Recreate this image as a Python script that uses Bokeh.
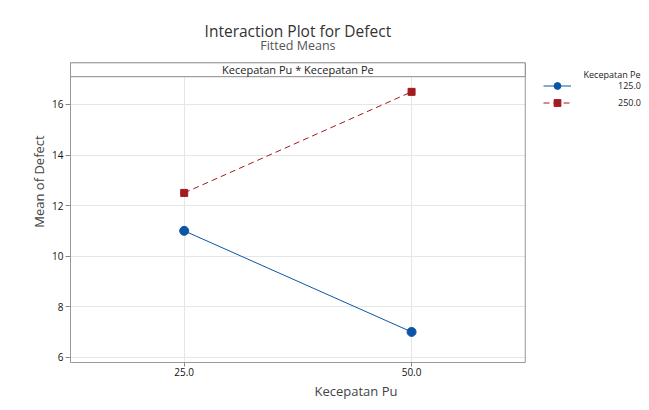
from bokeh.plotting import figure
from bokeh.models import Range1d, FixedTicker, Legend, LegendItem, Label
from bokeh.embed import file_html
from bokeh.resources import INLINE
from bokeh.core.properties import value

# ---- data ----
speed_pu = [25.0, 50.0]
mean_125 = [11.0, 7.0]
mean_250 = [12.5, 16.5]
series_labels = ["125.0", "250.0"]
legend_title = "Kecepatan Pe"
x_ticks = [25.0, 50.0]
x_tick_labels = ["25.0", "50.0"]
y_ticks = [6, 8, 10, 12, 14, 16]
strip_text = "Kecepatan Pu * Kecepatan Pe"
main_title = "Interaction Plot for Defect"
sub_title = "Fitted Means"

# ---- style / layout ----
FONT = "Open Sans"
BLUE = "#0B54A8"
RED = "#A11B1F"
W, H = 641, 402
X_LO, X_HI, X_END = 12.5, 62.5, 75.28          # plotting panel, then legend area
Y_LO, Y_STRIP, Y_HI, Y_TOP = 5.79, 17.10, 17.65, 20.115
FRAME_H = 362                                   # frame pixel height (top at 0)

p = figure(width=W, height=H, output_backend="svg", toolbar_location=None,
           x_range=Range1d(X_LO, X_END), y_range=Range1d(Y_LO, Y_TOP),
           min_border_left=70, min_border_right=0, min_border_top=0,
           min_border_bottom=40, title=None)
p.background_fill_color = "white"
p.border_fill_color = "white"
p.outline_line_color = None

# axes
p.xaxis.ticker = FixedTicker(ticks=x_ticks)
p.xaxis.major_label_overrides = {t: l for t, l in zip(x_ticks, x_tick_labels)}
p.yaxis.ticker = FixedTicker(ticks=y_ticks)
p.xgrid.ticker = FixedTicker(ticks=x_ticks)
p.ygrid.ticker = FixedTicker(ticks=y_ticks)
p.grid.grid_line_color = "#e6e6e6"
p.xaxis.bounds = (X_LO, X_HI)
p.yaxis.bounds = (Y_LO, Y_HI)
for ax in (p.xaxis, p.yaxis):
    ax.axis_line_color = "#999999"
    ax.major_tick_line_color = "#888888"
    ax.major_tick_in = 0
    ax.minor_tick_line_color = None
    ax.major_label_text_font = FONT
    ax.major_label_text_font_size = "10px"
    ax.major_label_text_color = "#111111"
    ax.axis_label_text_font = FONT
    ax.axis_label_text_font_size = "13px"
    ax.axis_label_text_font_style = "normal"
    ax.axis_label_text_color = "#444444"
p.xaxis.axis_label = "Kecepatan Pu"
p.yaxis.axis_label = "Mean of Defect"
p.xaxis.major_tick_out = 4
p.yaxis.major_tick_out = 5
p.xaxis.major_label_standoff = 1
p.yaxis.major_label_standoff = 2
p.xaxis.axis_label_standoff = 3
p.yaxis.axis_label_standoff = 1

# white masks: area right of the panel (legend area) and above the strip (titles)
p.quad(left=[X_HI], right=[X_END], bottom=[Y_LO], top=[Y_TOP],
       fill_color="white", line_color=None)
p.quad(left=[X_LO], right=[X_END], bottom=[Y_HI], top=[Y_TOP],
       fill_color="white", line_color=None)
# right border of the panel
p.segment(x0=[X_HI], y0=[Y_LO], x1=[X_HI], y1=[Y_HI], line_color="#999999", line_width=1)
# strip header
p.quad(left=[X_LO], right=[X_HI], bottom=[Y_STRIP], top=[Y_HI],
       fill_color="white", line_color="#888888", line_width=1)
p.text(x=[(X_LO + X_HI) / 2], y=[(Y_STRIP + Y_HI) / 2], text=[strip_text],
       text_align="center", text_baseline="middle", text_font=value(FONT),
       text_font_size="11px", text_color="#222222")

# data
r1l = p.line(speed_pu, mean_125, line_color=BLUE, line_width=1)
r1p = p.scatter(speed_pu, mean_125, marker="circle", size=9, color=BLUE)
r2l = p.line(speed_pu, mean_250, line_color=RED, line_width=1, line_dash="6 4")
r2p = p.scatter(speed_pu, mean_250, marker="square", size=7, color=RED)

# titles
p.add_layout(Label(x=(X_LO + X_HI) / 2, y=FRAME_H - 30.7, y_units="screen",
                   text=main_title, text_align="center", text_baseline="middle",
                   text_font=FONT, text_font_size="15.5px", text_color="#333333"))
p.add_layout(Label(x=(X_LO + X_HI) / 2, y=FRAME_H - 45, y_units="screen",
                   text=sub_title, text_align="center", text_baseline="middle",
                   text_font=FONT, text_font_size="12.5px", text_color="#555555"))

# legend
legend = Legend(items=[LegendItem(label=series_labels[0], renderers=[r1l, r1p]),
                       LegendItem(label=series_labels[1], renderers=[r2l, r2p])],
                location=(473, FRAME_H - 110.5), padding=0, margin=0, spacing=0,
                glyph_width=28, glyph_height=17, label_height=17,
                label_standoff=47, border_line_color=None,
                background_fill_alpha=0, label_text_font=FONT,
                label_text_font_size="9px", label_text_color="#222222")
p.add_layout(legend)
p.add_layout(Label(x=570, y=FRAME_H - 74.3, x_units="screen", y_units="screen",
                   text=legend_title, text_align="right", text_baseline="middle",
                   text_font=FONT, text_font_size="9px", text_color="#222222"))

open("out.html", "w").write(file_html(p, INLINE))
